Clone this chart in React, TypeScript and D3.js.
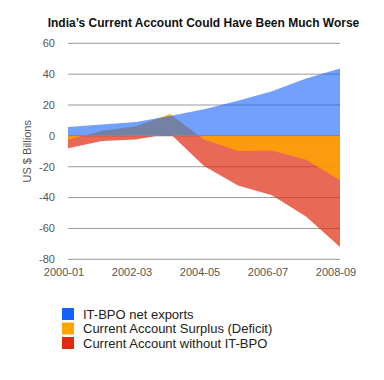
import React from "react";
import * as d3 from "d3";

const years = ["2000-01", "2001-02", "2002-03", "2003-04", "2004-05", "2005-06", "2006-07", "2007-08", "2008-09"];
const itBpo = [5.8, 7.4, 9.0, 12.8, 17.3, 22.7, 29.0, 37.2, 43.7];
const currentAccount = [-2.5, 3.4, 6.3, 14.1, -2.3, -9.8, -9.5, -15.5, -28.7];
const withoutItBpo = [-8.0, -3.4, -2.3, 1.6, -19.5, -32.2, -38.5, -52.3, -72.0];
const yTicks = [60, 40, 20, 0, -20, -40, -60, -80];
const xTickLabels = ["2000-01", "2002-03", "2004-05", "2006-07", "2008-09"];
const seriesNames = ["IT-BPO net exports", "Current Account Surplus (Deficit)", "Current Account without IT-BPO"];
const colors = ["#1560fa", "#ffa500", "#e0290f"];

export default function App() {
  const W = 384, H = 380;
  const left = 68, right = 340, top = 43.3, bottom = 259.3;
  const x = d3.scalePoint<string>().domain(years).range([left, right]);
  const y = d3.scaleLinear().domain([-80, 60]).range([bottom, top]);
  const font = "'Liberation Sans', Arial, Helvetica, sans-serif";

  const area = (vals: number[]) =>
    d3.area<number>()
      .x((_, i) => x(years[i]) as number)
      .y0(y(0))
      .y1((d) => y(d))(vals) as string;

  const layers = [
    { vals: withoutItBpo, color: colors[2], op: 0.7 },
    { vals: currentAccount, color: colors[1], op: 0.85 },
    { vals: itBpo, color: colors[0], op: 0.6 },
  ];

  return (
    <svg width={W} height={H} style={{ display: "block", position: "absolute", left: 0, top: 0 }}>
      <rect width={W} height={H} fill="#fff" />
      <text x={203.5} y={27} textAnchor="middle" fontFamily={font} fontWeight="bold" fontSize={12} fill="#111">
        India’s Current Account Could Have Been Much Worse
      </text>
      {yTicks.map((t) => (
        <g key={t}>
          <line x1={left} x2={right} y1={y(t)} y2={y(t)} stroke="#999" strokeWidth={1} />
          <text x={55} y={y(t)} dy="0.35em" textAnchor="end" fontFamily={font} fontSize={11} fill="#555">
            {t}
          </text>
        </g>
      ))}
      {layers.map((l, i) => (
        <path key={i} d={area(l.vals)} fill={l.color} fillOpacity={l.op} />
      ))}
      {xTickLabels.map((lab) => (
        <text key={lab} x={(x(lab) as number) - 4} y={276} textAnchor="middle" fontFamily={font} fontSize={11} fill="#555">
          {lab}
        </text>
      ))}
      <text transform={`translate(31,${(top + bottom) / 2}) rotate(-90)`} textAnchor="middle" fontFamily={font} fontSize={11} fill="#555">
        US $ Billions
      </text>
      {seriesNames.map((n, i) => (
        <g key={n} transform={`translate(62,${308 + i * 14.5})`}>
          <rect width={12} height={12} fill={colors[i]} />
          <text x={21} y={10.5} fontFamily={font} fontSize={13} fill="#222">
            {n}
          </text>
        </g>
      ))}
    </svg>
  );
}
